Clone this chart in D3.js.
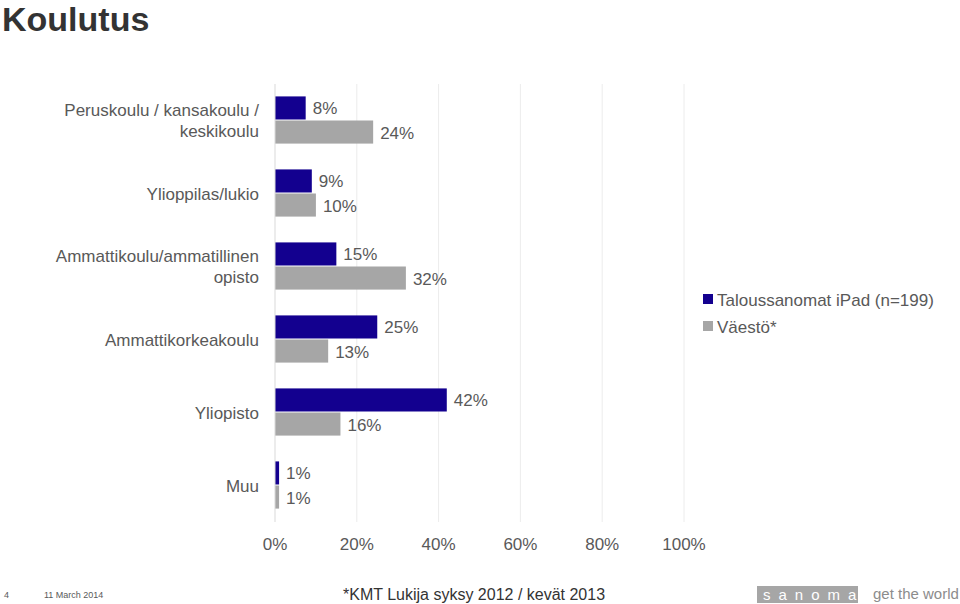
<!DOCTYPE html><html><head><meta charset="utf-8">
<script src="https://cdn.jsdelivr.net/npm/d3@7"></script>
<style>body{margin:0;background:#fff}text{font-family:"Liberation Sans",Arial,sans-serif}</style></head><body>
<svg id="c" width="960" height="604"></svg>
<script>
const categories=[["Peruskoulu / kansakoulu /","keskikoulu"],["Ylioppilas/lukio"],["Ammattikoulu/ammatillinen","opisto"],["Ammattikorkeakoulu"],["Yliopisto"],["Muu"]];
const seriesNames=["Taloussanomat iPad (n=199)","Väestö*"];
const ts=[7.5,9,15,25,42,1];
const vaesto=[24,10,32,13,16,1];
const ticks=[0,20,40,60,80,100];
const colors=["#13008f","#a6a6a6"];
const svg=d3.select("#c");
const x=d3.scaleLinear().domain([0,100]).range([275,684]);
const y=d3.scaleBand().domain(d3.range(6)).range([84,522]).paddingInner(0.34).paddingOuter(0.17);
const sub=d3.scaleBand().domain([0,1]).range([0,y.bandwidth()]);
svg.append("text").attr("x",2).attr("y",31).attr("font-size",34).attr("font-weight","bold").attr("fill","#333").text("Koulutus");
const g=svg.append("g");
g.selectAll(".grid").data(ticks.slice(1)).enter().append("line").attr("x1",d=>x(d)).attr("x2",d=>x(d)).attr("y1",84).attr("y2",522).attr("stroke","#ececec");
[ts,vaesto].forEach((s,si)=>{
 g.selectAll(".b"+si).data(s).enter().append("rect").attr("x",x(0)).attr("y",(d,i)=>y(i)+sub(si)).attr("width",d=>x(d)-x(0)).attr("height",sub.bandwidth()-1).attr("fill",colors[si]);
 g.selectAll(".l"+si).data(s).enter().append("text").attr("x",d=>x(d)+7).attr("y",(d,i)=>y(i)+sub(si)+sub.bandwidth()/2+6).attr("font-size",17).attr("fill","#595959").text(d=>Math.round(d)+"%");
});
g.append("line").attr("x1",x(0)).attr("x2",x(0)).attr("y1",84).attr("y2",522).attr("stroke","#d9d9d9");
categories.forEach((c,i)=>{
 const cy=y(i)+y.bandwidth()/2;
 c.forEach((t,j)=>svg.append("text").attr("x",259).attr("y",cy+6+(j-(c.length-1)/2)*21).attr("text-anchor","end").attr("font-size",17).attr("fill","#595959").text(t));
});
ticks.forEach(t=>svg.append("text").attr("x",x(t)).attr("y",550).attr("text-anchor","middle").attr("font-size",17).attr("fill","#595959").text(t+"%"));
seriesNames.forEach((n,i)=>{
 svg.append("rect").attr("x",703).attr("y",294+i*27).attr("width",10).attr("height",10).attr("fill",colors[i]);
 svg.append("text").attr("x",717).attr("y",306+i*27).attr("font-size",17).attr("fill","#595959").text(n);
});
svg.append("text").attr("x",4).attr("y",598).attr("font-size",9).attr("fill","#595959").text("4");
svg.append("text").attr("x",44).attr("y",598).attr("font-size",9).attr("fill","#595959").text("11 March 2014");
svg.append("text").attr("x",343).attr("y",600).attr("font-size",16).attr("fill","#333").text("*KMT Lukija syksy 2012 / kevät 2013");
svg.append("rect").attr("x",757).attr("y",586).attr("width",101).attr("height",17).attr("fill","#a6a6a6");
svg.append("text").attr("x",763).attr("y",600).attr("font-size",15).attr("fill","#fff").attr("letter-spacing",8).text("sanoma");
svg.append("text").attr("x",873).attr("y",599).attr("font-size",15).attr("fill","#8c8c8c").text("get the world");
</script></body></html>
